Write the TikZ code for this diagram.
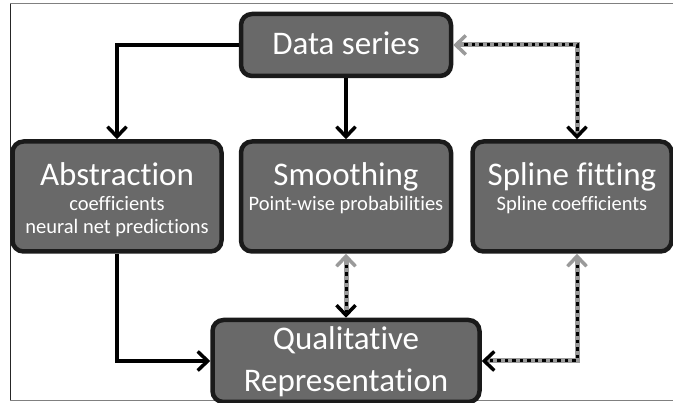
\documentclass[tikz,border=0pt]{standalone}
\usepackage{fontspec}
\setmainfont{Carlito}[Ligatures={NoCommon,NoRequired,NoContextual}]
\usetikzlibrary{arrows.meta,positioning}
\definecolor{boxgray}{HTML}{696969}
\definecolor{linkgray}{HTML}{9A9A9A}
\definecolor{edgeblack}{HTML}{1A1A1A}

\begin{document}
\begin{tikzpicture}[
    x=1pt,y=-1pt,
    box/.style={draw=edgeblack,fill=boxgray,line width=4.5pt,rounded corners=11pt,
      minimum width=210pt,minimum height=110pt,inner sep=0pt},
    heading/.style={text=white,inner sep=0pt,anchor=base,font=\fontsize{33}{40}\selectfont},
    note/.style={text=white,inner sep=0pt,anchor=base,font=\fontsize{20.5}{24}\selectfont},
    arrow/.style={-{Straight Barb[length=10pt,width=19pt]},draw=black,line width=3.5pt},
    link/.style={draw=linkgray,line width=5pt,
      {Straight Barb[length=10pt,width=19pt,line width=3.5pt,color=linkgray]}-{Straight Barb[length=10pt,width=19pt,line width=3.5pt,color=black]},
      postaction={draw=black,line width=3pt,arrows=-,dash pattern=on 3.5pt off 4pt,
        shorten <=11pt,shorten >=6pt}},
    frame/.style={draw=gray,line width=1pt}
  ]
    \useasboundingbox (0,0) rectangle (673,403);
    \draw[frame] (673,4) -- (10,4);
    \draw[frame,draw=black!85] (10,4) -- (10,401);
    \draw[frame] (10,401) -- (673,401);

    \node[box,minimum height=62pt] (data) at (346,45) {};
    \node[box,below=61pt of data] (smooth) {};
    \node[box,minimum width=209pt,left=15pt of smooth] (abs) {};
    \node[box,minimum width=199pt,right=17pt of smooth] (spline) {};
    \node[box,minimum width=267pt,minimum height=82pt,below=64pt of smooth] (qual) {};

    \node[heading] (data-title) at ([yshift=-43pt]data.north) {Data series};
    \node[heading] (abs-title) at ([yshift=-46pt]abs.north) {Abstraction};
    \node[note] (abs-coef) at ([yshift=-71pt]abs.north) {coefficients};
    \node[note] (abs-pred) at ([yshift=-94pt]abs.north) {neural net predictions};
    \node[heading] (smooth-title) at ([yshift=-46pt]smooth.north) {Smoothing};
    \node[note] (smooth-prob) at ([yshift=-71pt]smooth.north) {Point-wise probabilities};
    \node[heading] (spline-title) at ([yshift=-46pt]spline.north) {Spline fitting};
    \node[note] (spline-coef) at ([yshift=-71pt]spline.north) {Spline coefficients};
    \node[heading] (qual-top) at ([yshift=-32pt]qual.north) {Qualitative};
    \node[heading] (qual-bottom) at ([yshift=-74pt]qual.north) {Representation};

    \draw[arrow] (data.west) -| (abs.north);
    \draw[arrow] (data.south) -- (smooth.north);
    \draw[arrow] (abs.south) |- (qual.west);
    \draw[link] (data.east) -| ([xshift=5pt]spline.north);
    \draw[link] (smooth.south) -- (smooth.south |- qual.north);
    \draw[link] ([xshift=5pt]spline.south) |- (qual.east);
  \end{tikzpicture}
\end{document}
